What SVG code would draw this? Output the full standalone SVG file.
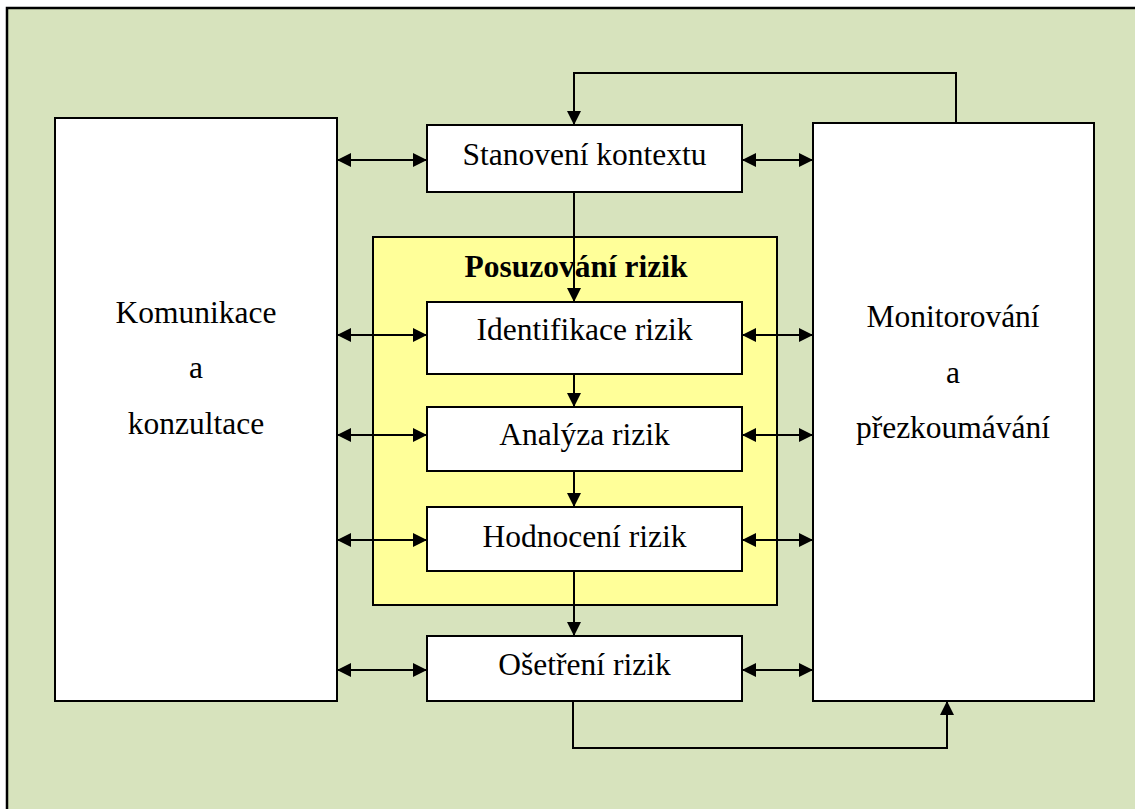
<svg xmlns="http://www.w3.org/2000/svg" width="1135" height="809" viewBox="0 0 1135 809">
  <style>
    .box { fill: #ffffff; stroke: #000000; stroke-width: 2; }
    .lbl { font-family: "Liberation Serif", "Times New Roman", serif; font-size: 31.5px; fill: #000000; text-anchor: middle; }
    .bold { font-weight: bold; }
    .conn { fill: none; stroke: #000000; stroke-width: 2; }
  </style>
  <defs>
    <marker id="arrow" viewBox="0 0 14 14" refX="14" refY="7" markerWidth="14" markerHeight="14" markerUnits="userSpaceOnUse" orient="auto-start-reverse">
      <path d="M0,0 L14,7 L0,14 Z" fill="#000000"/>
    </marker>
  </defs>

  <!-- page background -->
  <rect x="0" y="0" width="1135" height="809" fill="#ffffff"/>
  <rect x="7" y="8" width="1140" height="820" fill="#d7e3bd" stroke="#000000" stroke-width="2.5"/>

  <!-- risk assessment frame -->
  <g id="posuzovani">
    <rect x="373" y="237" width="404" height="368" fill="#ffff99" stroke="#000000" stroke-width="2"/>
    <text class="lbl bold" x="576" y="277">Posuzování rizik</text>
  </g>

  <g id="komunikace">
    <rect class="box" x="55" y="118" width="282" height="583"/>
    <text class="lbl" x="196" y="323">Komunikace</text>
    <text class="lbl" x="196" y="378">a</text>
    <text class="lbl" x="196" y="434">konzultace</text>
  </g>

  <g id="monitorovani">
    <rect class="box" x="813" y="123" width="281" height="578"/>
    <text class="lbl" x="953" y="327">Monitorování</text>
    <text class="lbl" x="953" y="383">a</text>
    <text class="lbl" x="953" y="438">přezkoumávání</text>
  </g>

  <g id="kontext">
    <rect class="box" x="427" y="125" width="315" height="67"/>
    <text class="lbl" x="584.5" y="165">Stanovení kontextu</text>
  </g>

  <g id="identifikace">
    <rect class="box" x="427" y="302" width="315" height="72"/>
    <text class="lbl" x="584.5" y="340">Identifikace rizik</text>
  </g>

  <g id="analyza">
    <rect class="box" x="427" y="407" width="315" height="64"/>
    <text class="lbl" x="584.5" y="445">Analýza rizik</text>
  </g>

  <g id="hodnoceni">
    <rect class="box" x="427" y="507" width="315" height="64"/>
    <text class="lbl" x="584.5" y="547">Hodnocení rizik</text>
  </g>

  <g id="osetreni">
    <rect class="box" x="427" y="636" width="315" height="65"/>
    <text class="lbl" x="584.5" y="675">Ošetření rizik</text>
  </g>

  <g id="connectors">
    <!-- process flow -->
    <line class="conn" x1="574" y1="192" x2="574" y2="302" marker-end="url(#arrow)"/>
    <line class="conn" x1="574" y1="374" x2="574" y2="407" marker-end="url(#arrow)"/>
    <line class="conn" x1="574" y1="471" x2="574" y2="507" marker-end="url(#arrow)"/>
    <line class="conn" x1="574" y1="571" x2="574" y2="636" marker-end="url(#arrow)"/>

    <!-- feedback loops -->
    <path class="conn" d="M956,123 V73 H574 V125" marker-end="url(#arrow)"/>
    <path class="conn" d="M573,701 V748 H947 V701" marker-end="url(#arrow)"/>

    <!-- communication links -->
    <line class="conn" x1="337" y1="160" x2="427" y2="160" marker-start="url(#arrow)" marker-end="url(#arrow)"/>
    <line class="conn" x1="337" y1="335" x2="427" y2="335" marker-start="url(#arrow)" marker-end="url(#arrow)"/>
    <line class="conn" x1="337" y1="435" x2="427" y2="435" marker-start="url(#arrow)" marker-end="url(#arrow)"/>
    <line class="conn" x1="337" y1="540" x2="427" y2="540" marker-start="url(#arrow)" marker-end="url(#arrow)"/>
    <line class="conn" x1="337" y1="670" x2="427" y2="670" marker-start="url(#arrow)" marker-end="url(#arrow)"/>

    <!-- monitoring links -->
    <line class="conn" x1="742" y1="160" x2="813" y2="160" marker-start="url(#arrow)" marker-end="url(#arrow)"/>
    <line class="conn" x1="742" y1="335" x2="813" y2="335" marker-start="url(#arrow)" marker-end="url(#arrow)"/>
    <line class="conn" x1="742" y1="435" x2="813" y2="435" marker-start="url(#arrow)" marker-end="url(#arrow)"/>
    <line class="conn" x1="742" y1="540" x2="813" y2="540" marker-start="url(#arrow)" marker-end="url(#arrow)"/>
    <line class="conn" x1="742" y1="670" x2="813" y2="670" marker-start="url(#arrow)" marker-end="url(#arrow)"/>
  </g>
</svg>
